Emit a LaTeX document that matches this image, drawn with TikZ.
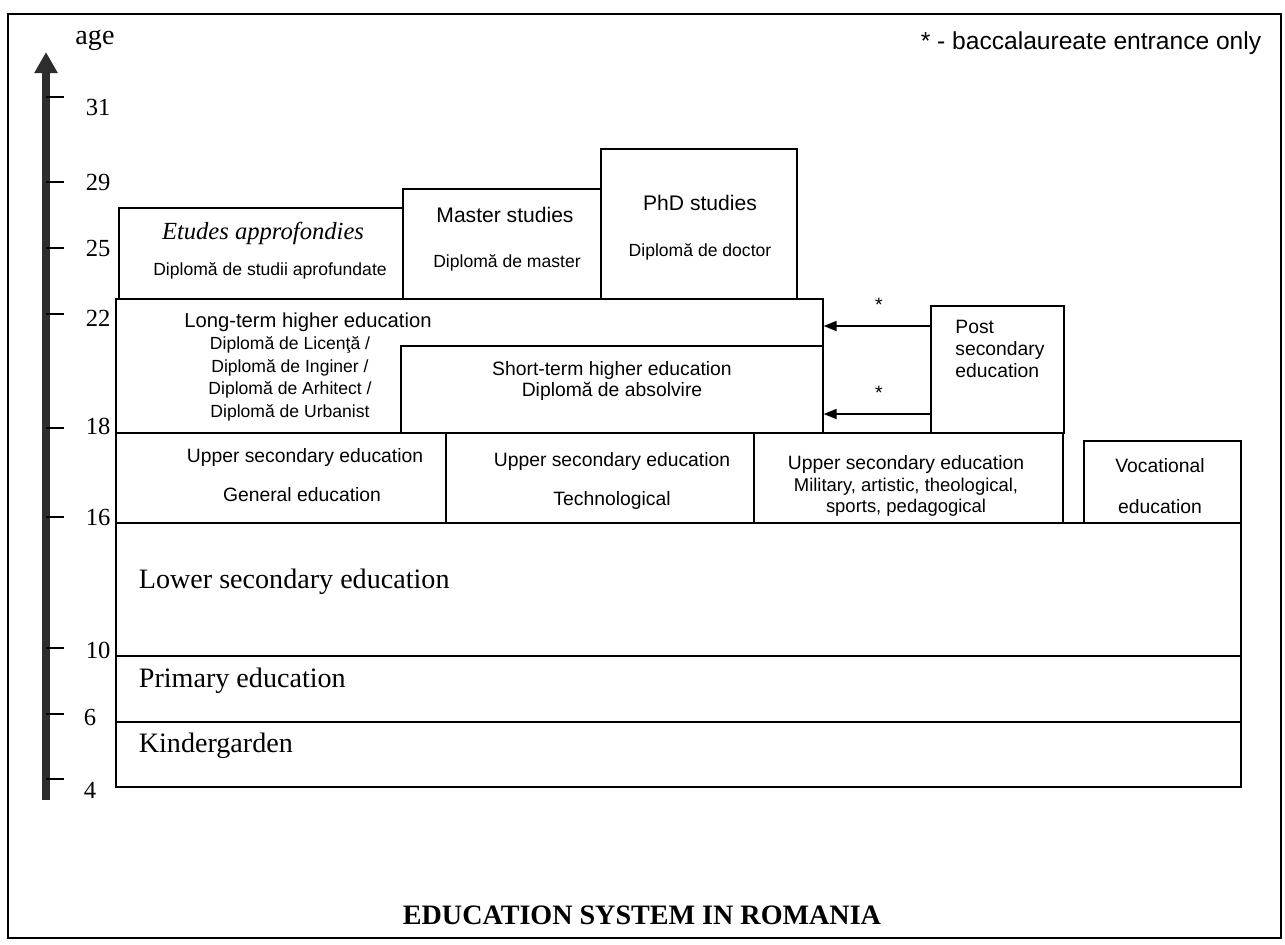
\documentclass[tikz,border=0pt]{standalone}
\usepackage{fontspec}
\setmainfont{Liberation Serif}
\setsansfont{Liberation Sans}
\usetikzlibrary{arrows.meta}
\definecolor{axisgray}{RGB}{45,45,45}

\begin{document}
\begin{tikzpicture}[x=0.02cm,y=-0.02cm,line width=1pt]
\tikzstyle{box}=[draw,rectangle,anchor=north west,inner sep=0pt]
\tikzstyle{sf}=[inner sep=0pt,align=center,font=\sffamily\fontsize{11}{13}\selectfont]
\tikzstyle{sfsmall}=[inner sep=0pt,align=center,font=\sffamily\fontsize{10}{12.9}\selectfont]
\tikzstyle{big}=[inner sep=0pt,anchor=west,font=\fontsize{16}{19}\selectfont]
\tikzstyle{agenum}=[inner sep=0pt,anchor=west,font=\fontsize{14}{17}\selectfont]

\useasboundingbox (0,0) rectangle (1285,944);
% outer frame
\draw (8,14) rectangle (1281,938);

% age axis
\coordinate (axbot) at (46,800);
\coordinate (axtop) at (46,52);
\draw[axisgray,line width=0.16cm,-{Triangle[length=0.42cm,width=0.44cm]}] (axbot) -- (axtop);
\draw (46,97) -- (64,97) (46,182) -- (64,182) (46,248) -- (64,248)
      (46,314) -- (64,314) (46,428) -- (64,428) (46,517) -- (64,517)
      (46,648) -- (64,648) (46,714) -- (64,714) (46,779) -- (64,779);
\node[inner sep=0pt,font=\fontsize{16}{19}\selectfont] (age) at (95,40) {age};
\node[agenum] (a31) at (85,107) {31};
\node[agenum] (a29) at (85,182) {29};
\node[agenum] (a25) at (85,248) {25};
\node[agenum] (a22) at (85,318) {22};
\node[agenum] (a18) at (85,426) {18};
\node[agenum] (a16) at (85,517) {16};
\node[agenum] (a10) at (85,650) {10};
\node[agenum] (a6) at (83,717) {6};
\node[agenum] (a4) at (83,790) {4};

% school levels
\node[box,minimum width=22.5cm,minimum height=1.3cm] (kg) at (115,721) {};
\node[box,minimum width=22.5cm,minimum height=1.32cm] (prim) at (115,655) {};
\node[box,minimum width=22.5cm,minimum height=2.66cm] (low) at (115,522) {};
\node[big] (kgtxt) at (138,746) {Kindergarden};
\node[big] (primtxt) at (138,681) {Primary education};
\node[big] (lowtxt) at (138,582) {Lower secondary education};

% upper secondary
\node[box,minimum width=6.6cm,minimum height=1.8cm] (usgen) at (115,432) {};
\node[box,minimum width=6.16cm,minimum height=1.8cm] (ustech) at (445,432) {};
\node[box,minimum width=6.18cm,minimum height=1.8cm] (usmil) at (753,432) {};
\node[box,minimum width=3.14cm,minimum height=1.64cm] (voc) at (1083,440) {};
\node[sf] (usgen1) at (305,457) {Upper secondary education};
\node[sf] (usgen2) at (302,495) {General education};
\node[sf] (ustech1) at (612,461) {Upper secondary education};
\node[sf] (ustech2) at (612,500) {Technological};
\node[sf] (usmil1) at (906,464) {Upper secondary education};
\node[sfsmall,font=\sffamily\fontsize{10.5}{12}\selectfont] (usmil2) at (906,497) {Military, artistic, theological,\\ sports, pedagogical};
\node[sf] (voc1) at (1160,466) {Vocational};
\node[sf] (voc2) at (1160,507) {education};

% higher education
\node[box,minimum width=2.66cm,minimum height=2.54cm] (post) at (930,305) {};
\node[sf,align=left,font=\sffamily\fontsize{11}{12.6}\selectfont] (posttxt) at (1000,349) {Post\\ secondary\\ education};
\node[box,minimum width=14.14cm,minimum height=2.68cm] (lt) at (115,298) {};
\node[box,minimum width=8.44cm,minimum height=1.74cm] (st) at (400,345) {};
\node[sf,font=\sffamily\fontsize{11.5}{13}\selectfont] (lt1) at (308,322) {Long-term higher education};
\node[sfsmall] (lt2) at (290,379) {Diplomă de Licenţă /\\ Diplomă de Inginer /\\ Diplomă de Arhitect /\\ Diplomă de Urbanist};
\node[sf,font=\sffamily\fontsize{11}{12.5}\selectfont] (sttxt) at (612,381) {Short-term higher education\\ Diplomă de absolvire};

\node[box,minimum width=5.68cm,minimum height=1.82cm] (etu) at (118,207) {};
\node[box,minimum width=3.96cm,minimum height=2.2cm] (mas) at (402,188) {};
\node[box,minimum width=3.92cm,minimum height=3.0cm] (phd) at (600,148) {};
\node[inner sep=0pt,font=\itshape\fontsize{14}{17}\selectfont] (etu1) at (263,233) {Etudes approfondies};
\node[sfsmall] (etu2) at (270,271) {Diplomă de studii aprofundate};
\node[sf,font=\sffamily\fontsize{12}{14}\selectfont] (mas1) at (505,215) {Master studies};
\node[sfsmall] (mas2) at (507,263) {Diplomă de master};
\node[sf,font=\sffamily\fontsize{12}{14}\selectfont] (phd1) at (700,203) {PhD studies};
\node[sfsmall] (phd2) at (700,252) {Diplomă de doctor};

% baccalaureate entrance
\coordinate (p1) at (930,326);
\coordinate (p2) at (930,414);
\draw[-{Triangle[length=0.26cm,width=0.2cm]}] (p1) -- (lt.east |- p1);
\draw[-{Triangle[length=0.26cm,width=0.2cm]}] (p2) -- (st.east |- p2);
\node[sf] (star1) at (879,305) {*};
\node[sf] (star2) at (879,393) {*};

\node[inner sep=0pt,font=\sffamily\fontsize{14}{17}\selectfont] (legend) at (1091,43) {* - baccalaureate entrance only};
\node[inner sep=0pt,font=\bfseries\fontsize{16}{19}\selectfont] (title) at (642,915) {EDUCATION SYSTEM IN ROMANIA};

\end{tikzpicture}
\end{document}
